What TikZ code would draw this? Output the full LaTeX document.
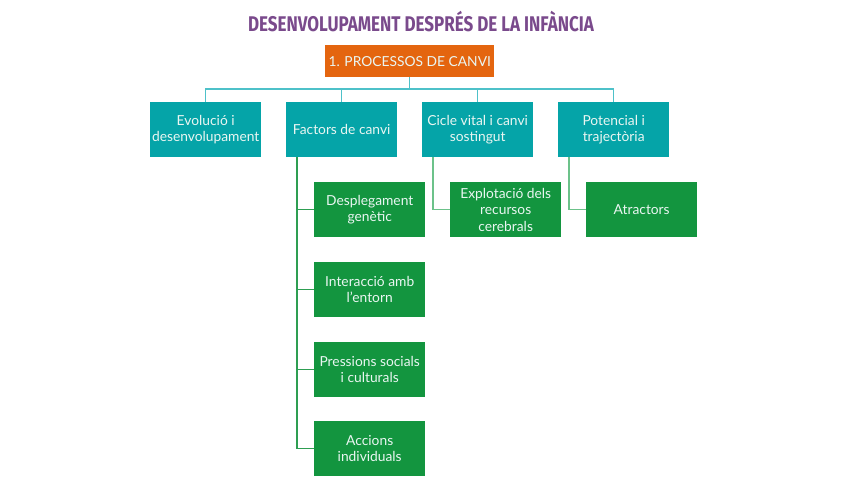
\documentclass[tikz,border=0pt]{standalone}
\usepackage{graphicx}
\usepackage{fontspec}
\setmainfont{Lato}
\newfontfamily\titlefont{Fira Sans}
\definecolor{orng}{HTML}{E4650F}
\definecolor{tealc}{HTML}{05A4A8}
\definecolor{grn}{HTML}{13953F}
\definecolor{tline}{HTML}{4EC1C9}
\definecolor{gline}{HTML}{2E9E52}
\definecolor{lgline}{HTML}{6CC28A}
\definecolor{ttl}{HTML}{7A4A8C}
\definecolor{txt}{HTML}{EAF6F2}
\begin{document}
\begin{tikzpicture}[x=1pt,y=-1pt,
  box/.style={minimum width=111pt,minimum height=55pt,inner sep=1pt,align=center,text=txt,font=\fontsize{13.8}{16.5}\selectfont,anchor=north west},
  topbox/.style={box,fill=tealc},
  leafbox/.style={box,fill=grn},
  bus/.style={tline,line width=1.3pt},
  gl/.style={gline,line width=1.3pt},
  lgl/.style={lgline,line width=1.3pt}]
\useasboundingbox (0,0) rectangle (848,477);
\fill[white] (0,0) rectangle (848,477);
\node[text=ttl,font=\titlefont\bfseries\fontsize{17}{20}\selectfont,inner sep=0pt] (title) at (421,22) {\scalebox{1}[1.25]{DESENVOLUPAMENT DESPRÉS DE LA INFÀNCIA}};
\node[fill=orng,text=txt,minimum width=169pt,minimum height=32pt,inner sep=1pt,anchor=north west,font=\fontsize{13.8}{16.5}\selectfont] (root) at (325,45) {1. PROCESSOS DE CANVI};
\node[topbox] (a) at (150,102) {Evolució i\\desenvolupament};
\node[topbox] (b) at (286,102) {Factors de canvi};
\node[topbox] (c) at (422,102) {Cicle vital i canvi\\sostingut};
\node[topbox] (d) at (558,102) {Potencial i\\trajectòria};
\node[leafbox] (b1) at (314,182) {Desplegament\\genètic};
\node[leafbox] (b2) at (314,262) {Interacció amb\\l'entorn};
\node[leafbox] (b3) at (314,342) {Pressions socials\\i culturals};
\node[leafbox] (b4) at (314,421) {Accions\\individuals};
\node[leafbox] (c1) at (450,182) {Explotació dels\\recursos\\cerebrals};
\node[leafbox] (d1) at (586,182) {Atractors};
\coordinate (busy) at (0,89);
\draw[bus] (root.south) -- (root.south |- busy);
\draw[bus] (a.north) -- (a.north |- busy) -- (d.north |- busy) -- (d.north);
\draw[bus] (b.north) -- (b.north |- busy);
\draw[bus] (c.north) -- (c.north |- busy);
\coordinate (bx) at ([xshift=11pt]b.south west);
\coordinate (cx) at ([xshift=11pt]c.south west);
\coordinate (dx) at ([xshift=11pt]d.south west);
\draw[gl] (bx) -- (bx |- b4.west) -- (b4.west);
\draw[gl] (bx |- b1.west) -- (b1.west);
\draw[gl] (bx |- b2.west) -- (b2.west);
\draw[gl] (bx |- b3.west) -- (b3.west);
\draw[lgl] (cx) -- (cx |- c1.west) -- (c1.west);
\draw[lgl] (dx) -- (dx |- d1.west) -- (d1.west);
\end{tikzpicture}
\end{document}
